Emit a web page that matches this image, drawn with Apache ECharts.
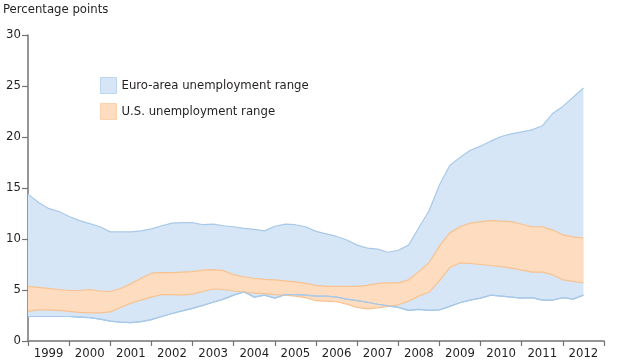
<!DOCTYPE html>
<html>
<head>
<meta charset="utf-8">
<script src="https://cdn.jsdelivr.net/npm/echarts@6/dist/echarts.min.js"></script>
<style>
html,body{margin:0;padding:0;background:#fff;}
#chart{width:620px;height:360px;}
</style>
</head>
<body>
<div id="chart"></div>
<script>
// Time axis points (year fractions, quarterly); the axis runs to 2013.0
var periods = [
  1999.0,1999.25,1999.5,1999.75,2000.0,2000.25,2000.5,2000.75,
  2001.0,2001.25,2001.5,2001.75,2002.0,2002.25,2002.5,2002.75,
  2003.0,2003.25,2003.5,2003.75,2004.0,2004.25,2004.5,2004.75,
  2005.0,2005.25,2005.5,2005.75,2006.0,2006.25,2006.5,2006.75,
  2007.0,2007.25,2007.5,2007.75,2008.0,2008.25,2008.5,2008.75,
  2009.0,2009.25,2009.5,2009.75,2010.0,2010.25,2010.5,2010.75,
  2011.0,2011.25,2011.5,2011.75,2012.0,2012.25,2012.5,2012.75,
  2013.0
];
// Euro-area unemployment range: upper and lower bounds (data ends mid-2012)
var euroHigh = [
  14.4,13.6,13.0,12.7,12.2,11.8,11.5,11.2,
  10.7,10.7,10.7,10.8,11.0,11.3,11.55,11.6,
  11.6,11.4,11.45,11.3,11.2,11.05,10.95,10.8,
  11.25,11.45,11.4,11.2,10.75,10.5,10.25,9.9,
  9.4,9.1,9.0,8.7,8.9,9.4,11.1,12.8,
  15.3,17.2,18.0,18.7,19.1,19.6,20.05,20.3,
  20.5,20.7,21.1,22.3,23.0,23.9,24.8
];
var euroLow = [
  2.4,2.4,2.4,2.4,2.4,2.35,2.3,2.15,
  1.95,1.85,1.8,1.9,2.1,2.4,2.7,2.95,
  3.2,3.5,3.8,4.1,4.5,4.8,4.3,4.5,
  4.2,4.55,4.55,4.5,4.4,4.4,4.3,4.1,
  3.95,3.8,3.6,3.45,3.3,3.0,3.1,3.0,
  3.05,3.4,3.75,4.0,4.2,4.5,4.4,4.3,
  4.2,4.25,4.0,4.0,4.25,4.1,4.5
];
// U.S. unemployment range: upper and lower bounds
var usHigh = [
  5.35,5.25,5.15,5.05,4.95,4.95,5.05,4.9,
  4.85,5.15,5.6,6.15,6.65,6.7,6.7,6.75,
  6.8,6.95,7.0,6.9,6.5,6.3,6.15,6.05,
  6.0,5.9,5.8,5.65,5.45,5.35,5.35,5.35,
  5.35,5.45,5.65,5.7,5.7,6.0,6.8,7.7,
  9.3,10.6,11.2,11.55,11.7,11.8,11.75,11.7,
  11.45,11.2,11.2,10.9,10.4,10.2,10.1
];
var usLow = [
  2.9,3.05,3.05,3.0,2.9,2.8,2.75,2.75,
  2.85,3.3,3.7,4.0,4.3,4.55,4.55,4.5,
  4.6,4.85,5.1,5.05,4.9,4.8,4.7,4.65,
  4.55,4.5,4.4,4.25,3.95,3.9,3.85,3.6,
  3.3,3.15,3.25,3.4,3.55,3.9,4.4,4.8,
  5.9,7.2,7.65,7.6,7.5,7.4,7.3,7.15,
  6.95,6.75,6.75,6.5,6.0,5.85,5.7
];
var yearLabels = ['1999','2000','2001','2002','2003','2004','2005','2006','2007','2008','2009','2010','2011','2012'];
var yTicks = [0,5,10,15,20,25,30];
var seriesNames = ['Euro-area unemployment range','U.S. unemployment range'];

var FONT = "'Liberation Sans Narrow','DejaVu Sans Condensed',sans-serif";
var BLUE_FILL = '#d6e6f6', BLUE_LINE = '#a9c9e8';
var ORANGE_FILL = '#fddcbf', ORANGE_LINE = '#f8c290';
var AXIS = '#737373', TEXT = '#231f20';

function diffs(hi, lo){ return hi.map(function(v,i){ return +(v - lo[i]).toFixed(3); }); }

var chart = echarts.init(document.getElementById('chart'), null, {renderer:'canvas'});
chart.setOption({
  animation: false,
  textStyle: {fontFamily: FONT},
  title: {
    text: 'Percentage points', left: 3, top: 3, padding: 0,
    textStyle: {fontFamily: FONT, fontSize: 13, fontWeight: 'normal', color: TEXT}
  },
  legend: {
    orient: 'vertical', left: 100, top: 77, padding: 0, itemWidth: 16, itemHeight: 16, itemGap: 9,
    textStyle: {fontFamily: FONT, fontSize: 13, color: TEXT},
    selectedMode: false,
    data: [
      {name: seriesNames[0], icon: 'rect', itemStyle: {color: BLUE_FILL, borderColor: '#bcd6ef', borderWidth: 1}},
      {name: seriesNames[1], icon: 'rect', itemStyle: {color: ORANGE_FILL, borderColor: '#fcd3ad', borderWidth: 1}}
    ]
  },
  grid: {left: 28, right: 16, top: 35, bottom: 16, containLabel: false},
  xAxis: [
    {
      type: 'category', data: periods, boundaryGap: false,
      axisLine: {show: true, lineStyle: {color: AXIS, width: 1.5}},
      axisTick: {show: true, length: 5, lineStyle: {color: AXIS, width: 1.2},
        interval: function(idx){ return idx % 4 === 0; }},
      axisLabel: {show: false}, splitLine: {show: false}
    },
    {
      type: 'category', data: yearLabels, boundaryGap: true, position: 'bottom',
      axisLine: {show: false}, axisTick: {show: false}, splitLine: {show: false},
      axisLabel: {show: true, fontFamily: FONT, fontSize: 13, color: TEXT, margin: 6, interval: 0}
    }
  ],
  yAxis: {
    type: 'value', min: yTicks[0], max: yTicks[yTicks.length-1], interval: 5,
    axisLine: {show: true, lineStyle: {color: AXIS, width: 1.5}},
    axisTick: {show: true, length: 6, lineStyle: {color: AXIS, width: 1.2}},
    axisLabel: {fontFamily: FONT, fontSize: 13, color: TEXT, margin: 7},
    splitLine: {show: false}
  },
  series: [
    {
      name: 'euroLowBase', type: 'line', stack: 'eu', data: euroLow,
      symbol: 'none', lineStyle: {color: BLUE_LINE, width: 1.2}, silent: true
    },
    {
      name: seriesNames[0], type: 'line', stack: 'eu', data: diffs(euroHigh, euroLow),
      symbol: 'none', lineStyle: {color: BLUE_LINE, width: 1.2},
      itemStyle: {color: BLUE_FILL},
      areaStyle: {color: BLUE_FILL, opacity: 1}, silent: true
    },
    {
      name: 'usLowBase', type: 'line', stack: 'us', data: usLow,
      symbol: 'none', lineStyle: {color: ORANGE_LINE, width: 1.2}, silent: true
    },
    {
      name: seriesNames[1], type: 'line', stack: 'us', data: diffs(usHigh, usLow),
      symbol: 'none', lineStyle: {color: ORANGE_LINE, width: 1.2},
      itemStyle: {color: ORANGE_FILL},
      areaStyle: {color: ORANGE_FILL, opacity: 1}, silent: true
    },
    {
      name: 'euroLowTop', type: 'line', data: euroLow,
      symbol: 'none', lineStyle: {color: BLUE_LINE, width: 1.2}, silent: true
    }
  ]
});
</script>
</body>
</html>
